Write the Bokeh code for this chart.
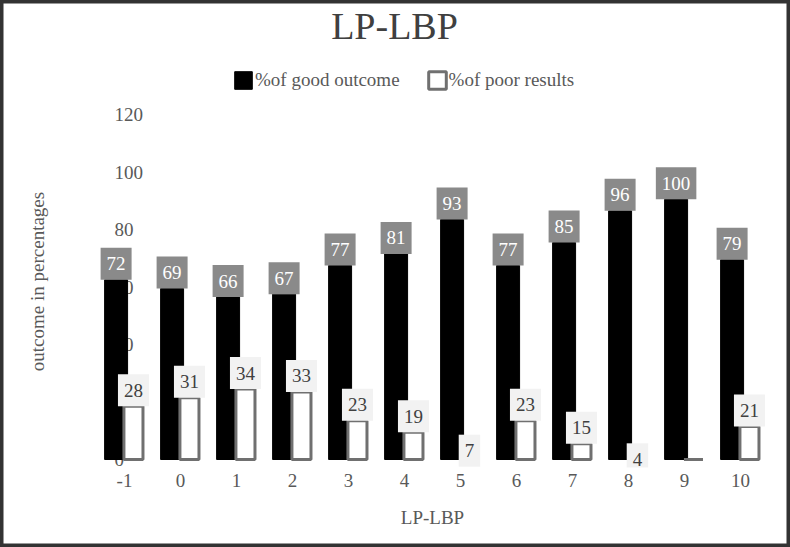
import math
from bokeh.plotting import figure
from bokeh.models import Range1d, Legend, LegendItem, ColumnDataSource
from bokeh.core.properties import value
from bokeh.embed import file_html
from bokeh.resources import INLINE

# ---- data ----
categories = [-1, 0, 1, 2, 3, 4, 5, 6, 7, 8, 9, 10]
good_outcome = [72, 69, 66, 67, 77, 81, 93, 77, 85, 96, 100, 79]
poor_results = [28, 31, 34, 33, 23, 19, 7, 23, 15, 4, 0, 21]
y_ticks = [0, 20, 40, 60, 80, 100, 120]

# ---- layout of the reference (pixels) ----
W, H = 790, 547
CAT0_PX, CAT_STEP_PX = 124, 56      # centre of first category, spacing
BASE_PX, PX_PER_UNIT = 459, 2.875   # baseline of the bars, vertical scale
AXIS_MIN = 9.5                      # the bars rise from this value (axis does not start at 0)
PLOT_BOTTOM_PX = 467
BOX_H = 32 / PX_PER_UNIT            # data-label box height (32 px)

FONT = value("Liberation Serif")
TXT = "#595959"


def dx(px):
    return (px - CAT0_PX) / CAT_STEP_PX


def dy(py):
    return AXIS_MIN + (BASE_PX - py) / PX_PER_UNIT


PLOT_BOTTOM = dy(PLOT_BOTTOM_PX)
idx = list(range(len(categories)))


def box_w(v):
    return (12 + 9.5 * len(str(v))) / CAT_STEP_PX


XG = [i - 0.15 for i in idx]   # dark bar of each pair
XP = [i + 0.16 for i in idx]   # hollow bar of each pair

bars = ColumnDataSource(dict(
    xg=XG, xp=XP, good=good_outcome,
    poor_top=[max(v, AXIS_MIN) for v in poor_results],
))
glab = ColumnDataSource(dict(
    x=XG, lbl=[str(v) for v in good_outcome],
    left=[x - box_w(v) / 2 for x, v in zip(XG, good_outcome)],
    right=[x + box_w(v) / 2 for x, v in zip(XG, good_outcome)],
    bottom=good_outcome,
    top=[v + BOX_H for v in good_outcome],
    mid=[v + BOX_H / 2 for v in good_outcome],
))
# labels whose anchor lies below the plot area are hidden, as in the reference
pk = [(x, v) for x, v in zip(XP, poor_results) if v + BOX_H / 2 >= PLOT_BOTTOM]
plab = ColumnDataSource(dict(
    x=[x for x, v in pk], lbl=[str(v) for x, v in pk],
    left=[x - box_w(v) / 2 for x, v in pk],
    right=[x + box_w(v) / 2 for x, v in pk],
    bottom=[max(v, PLOT_BOTTOM) for x, v in pk],
    top=[v + BOX_H for x, v in pk],
    mid=[v + BOX_H / 2 for x, v in pk],
))

p = figure(width=W, height=H,
           x_range=Range1d(dx(0), dx(W)), y_range=Range1d(dy(H), dy(0)),
           output_backend="svg", toolbar_location=None, min_border=0)
p.xaxis.visible = False
p.yaxis.visible = False
p.xgrid.visible = False
p.ygrid.visible = False
p.background_fill_color = "white"
p.border_fill_color = "white"
p.outline_line_color = "#333333"
p.outline_line_width = 6

common = dict(text_font=FONT, text_font_size="19px", text_color=TXT,
              text_align="center", text_baseline="middle")

# title
p.text(x=[dx(394)], y=[dy(25)], text=["LP-LBP"], text_font=FONT, text_font_size="38px",
       text_color="#404040", text_align="center", text_baseline="middle")

# y tick labels (partly covered by the first bar, as in the reference)
p.text(x=[dx(114)] * len(y_ticks), y=[t + AXIS_MIN for t in y_ticks], text=[str(t) for t in y_ticks],
       text_font=FONT, text_font_size="19px", text_color=TXT,
       text_align="left", text_baseline="middle")

# axis titles and category labels
p.text(x=[dx(37)], y=[dy(281)], text=["outcome in percentages"], angle=math.pi / 2, **common)
p.text(x=idx, y=[dy(480)] * len(idx), text=[str(c) for c in categories], **common)
p.text(x=[dx(432)], y=[dy(517)], text=["LP-LBP"], **common)

# bars
good_r = p.vbar(x="xg", top="good", bottom=AXIS_MIN, width=0.41, fill_color="black",
                line_color="black", source=bars)
poor_r = p.vbar(x="xp", top="poor_top", bottom=AXIS_MIN, width=0.34, fill_color="white",
                line_color="#707070", line_width=3, source=bars)

# data labels
p.quad(left="left", right="right", bottom="bottom", top="top", source=glab,
       fill_color="#8a8a8a", line_color=None)
p.text(x="x", y="mid", text="lbl", source=glab, text_font=FONT, text_font_size="19px",
       text_color="white", text_align="center", text_baseline="middle")
p.quad(left="left", right="right", bottom="bottom", top="top", source=plab,
       fill_color="#f2f2f2", line_color=None)
p.text(x="x", y="mid", text="lbl", source=plab, text_font=FONT, text_font_size="19px",
       text_color="#404040", text_align="center", text_baseline="middle")

legend = Legend(items=[LegendItem(label="%of good outcome", renderers=[good_r]),
                       LegendItem(label="%of poor results", renderers=[poor_r])],
                orientation="horizontal", location=(232, H - 80 - 11),
                glyph_width=22, glyph_height=22, label_standoff=1, spacing=26,
                padding=0, margin=0, border_line_color=None, background_fill_alpha=0,
                label_text_font="Liberation Serif", label_text_font_size="19px",
                label_text_color=TXT, label_height=22)
p.add_layout(legend)

open("out.html", "w").write(file_html(p, INLINE))
